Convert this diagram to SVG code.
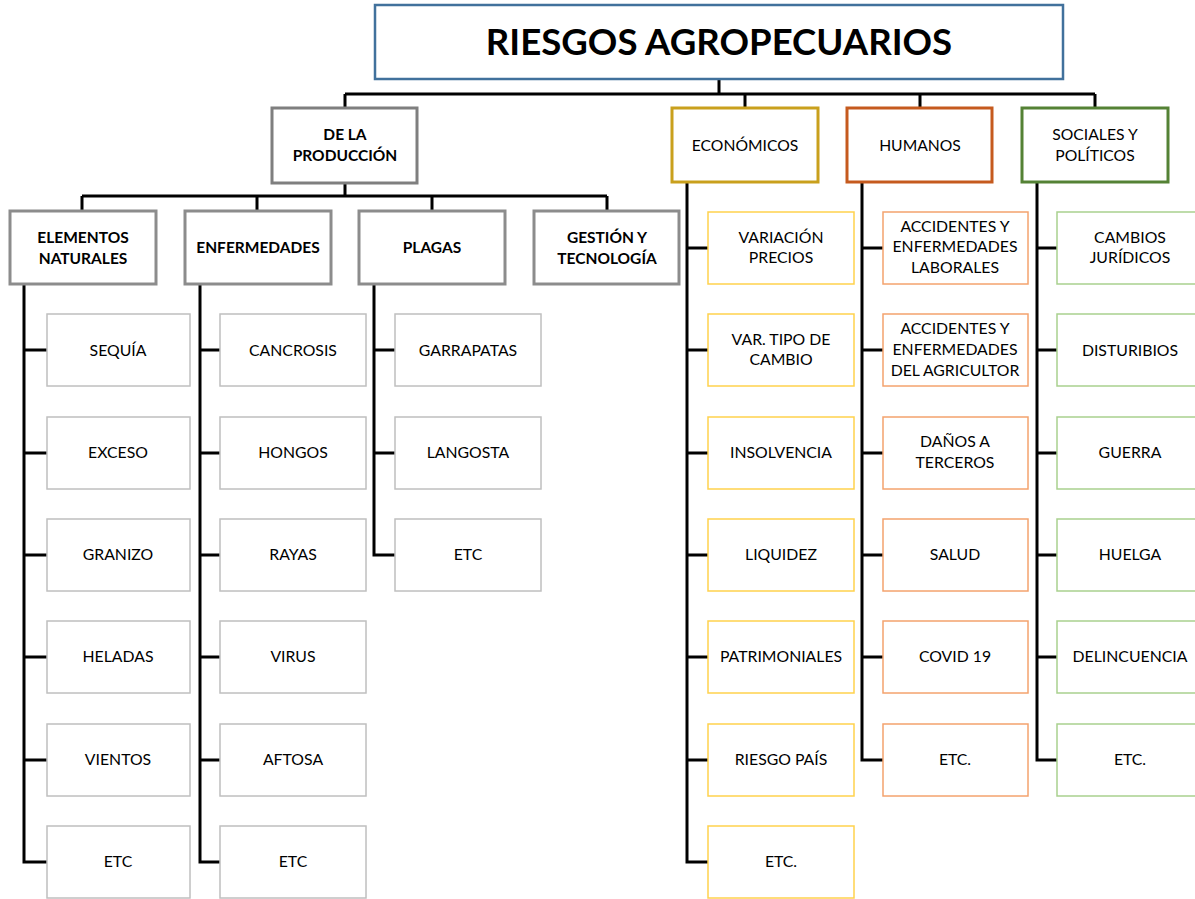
<svg xmlns="http://www.w3.org/2000/svg" width="1195" height="899" viewBox="0 0 1195 899">
<style>
text{font-family:Lato,"Liberation Sans",sans-serif;fill:#000;text-anchor:middle}
.t{font-size:36.6px;font-weight:bold}
.c{font-size:15.5px;font-weight:bold}
.m{font-size:15.7px}
.l{font-size:15.8px}
.conn{stroke:#000;stroke-width:3;fill:none}
.gray{fill:#fff;stroke:#8c8c8c;stroke-width:3}
.leafg{fill:#fff;stroke:#bfbfbf;stroke-width:1.5}
.leafy{fill:#fff;stroke:#ffd24d;stroke-width:1.5}
.leafo{fill:#fff;stroke:#f4a36e;stroke-width:1.5}
.leafv{fill:#fff;stroke:#a9d18e;stroke-width:1.5}
</style>
<g id="connectors" class="conn">
<path d="M719 79V94M345 94H1095M345 94V108M745 94V108M920 94V108M1095 94V108"/>
<path d="M345 183V196M82 196H607M82 196V211M257 196V211M432 196V211M607 196V211"/>
<path d="M24 284V862H47M24 350H47M24 453H47M24 555H47M24 657H47M24 760H47"/>
<path d="M200 284V862H220M200 350H220M200 453H220M200 555H220M200 657H220M200 760H220"/>
<path d="M374 284V555H395M374 350H395M374 453H395"/>
<path d="M687 183V862H708M687 248H708M687 350H708M687 453H708M687 555H708M687 657H708M687 760H708"/>
<path d="M862 183V760H883M862 248H883M862 350H883M862 453H883M862 555H883M862 657H883"/>
<path d="M1037 183V760H1057M1037 248H1057M1037 350H1057M1037 453H1057M1037 555H1057M1037 657H1057"/>
</g>
<g id="title"><rect x="375" y="5" width="688" height="74" fill="#fff" stroke="#41719c" stroke-width="2.5"/><text class="t" x="719" y="55">RIESGOS AGROPECUARIOS</text></g>
<g id="produccion"><rect x="272" y="108" width="145" height="75" fill="#fff" stroke="#7f7f7f" stroke-width="3"/><text class="c" x="345" y="140">DE LA</text><text class="c" x="345" y="161">PRODUCCIÓN</text></g>
<g id="economicos"><rect x="672" y="108" width="146" height="74" fill="#fff" stroke="#c9a01c" stroke-width="3"/><text class="m" x="745" y="151">ECONÓMICOS</text></g>
<g id="humanos"><rect x="847" y="108" width="145" height="74" fill="#fff" stroke="#c55a1e" stroke-width="3"/><text class="m" x="920" y="151">HUMANOS</text></g>
<g id="sociales"><rect x="1022" y="108" width="146" height="74" fill="#fff" stroke="#548235" stroke-width="3"/><text class="m" x="1095" y="140">SOCIALES Y</text><text class="m" x="1095" y="161">POLÍTICOS</text></g>
<g id="elementos"><rect class="gray" x="10" y="211" width="146" height="73"/><text class="c" x="83" y="243">ELEMENTOS</text><text class="c" x="83" y="264">NATURALES</text></g>
<g id="enfermedades"><rect class="gray" x="185" y="211" width="146" height="73"/><text class="c" x="258" y="253">ENFERMEDADES</text></g>
<g id="plagas"><rect class="gray" x="359" y="211" width="146" height="73"/><text class="c" x="432" y="253">PLAGAS</text></g>
<g id="gestion"><rect class="gray" x="534" y="211" width="145" height="73"/><text class="c" x="607" y="243">GESTIÓN Y</text><text class="c" x="607" y="264">TECNOLOGÍA</text></g>
<g id="sequia"><rect class="leafg" x="47" y="314" width="143" height="72"/><text class="l" x="118" y="356">SEQUÍA</text></g>
<g id="exceso"><rect class="leafg" x="47" y="417" width="143" height="72"/><text class="l" x="118" y="458">EXCESO</text></g>
<g id="granizo"><rect class="leafg" x="47" y="519" width="143" height="72"/><text class="l" x="118" y="560">GRANIZO</text></g>
<g id="heladas"><rect class="leafg" x="47" y="621" width="143" height="72"/><text class="l" x="118" y="662">HELADAS</text></g>
<g id="vientos"><rect class="leafg" x="47" y="724" width="143" height="72"/><text class="l" x="118" y="765">VIENTOS</text></g>
<g id="etc1"><rect class="leafg" x="47" y="826" width="143" height="72"/><text class="l" x="118" y="867">ETC</text></g>
<g id="cancrosis"><rect class="leafg" x="220" y="314" width="146" height="72"/><text class="l" x="293" y="356">CANCROSIS</text></g>
<g id="hongos"><rect class="leafg" x="220" y="417" width="146" height="72"/><text class="l" x="293" y="458">HONGOS</text></g>
<g id="rayas"><rect class="leafg" x="220" y="519" width="146" height="72"/><text class="l" x="293" y="560">RAYAS</text></g>
<g id="virus"><rect class="leafg" x="220" y="621" width="146" height="72"/><text class="l" x="293" y="662">VIRUS</text></g>
<g id="aftosa"><rect class="leafg" x="220" y="724" width="146" height="72"/><text class="l" x="293" y="765">AFTOSA</text></g>
<g id="etc2"><rect class="leafg" x="220" y="826" width="146" height="72"/><text class="l" x="293" y="867">ETC</text></g>
<g id="garrapatas"><rect class="leafg" x="395" y="314" width="146" height="72"/><text class="l" x="468" y="356">GARRAPATAS</text></g>
<g id="langosta"><rect class="leafg" x="395" y="417" width="146" height="72"/><text class="l" x="468" y="458">LANGOSTA</text></g>
<g id="etc3"><rect class="leafg" x="395" y="519" width="146" height="72"/><text class="l" x="468" y="560">ETC</text></g>
<g id="variacion"><rect class="leafy" x="708" y="212" width="146" height="72"/><text class="l" x="781" y="243">VARIACIÓN</text><text class="l" x="781" y="263">PRECIOS</text></g>
<g id="tipocambio"><rect class="leafy" x="708" y="314" width="146" height="72"/><text class="l" x="781" y="345">VAR. TIPO DE</text><text class="l" x="781" y="365">CAMBIO</text></g>
<g id="insolvencia"><rect class="leafy" x="708" y="417" width="146" height="72"/><text class="l" x="781" y="458">INSOLVENCIA</text></g>
<g id="liquidez"><rect class="leafy" x="708" y="519" width="146" height="72"/><text class="l" x="781" y="560">LIQUIDEZ</text></g>
<g id="patrimoniales"><rect class="leafy" x="708" y="621" width="146" height="72"/><text class="l" x="781" y="662">PATRIMONIALES</text></g>
<g id="riesgopais"><rect class="leafy" x="708" y="724" width="146" height="72"/><text class="l" x="781" y="765">RIESGO PAÍS</text></g>
<g id="etc4"><rect class="leafy" x="708" y="826" width="146" height="72"/><text class="l" x="781" y="867">ETC.</text></g>
<g id="laborales"><rect class="leafo" x="883" y="212" width="145" height="72"/><text class="l" x="955" y="232">ACCIDENTES Y</text><text class="l" x="955" y="252">ENFERMEDADES</text><text class="l" x="955" y="273">LABORALES</text></g>
<g id="agricultor"><rect class="leafo" x="883" y="314" width="145" height="72"/><text class="l" x="955" y="334">ACCIDENTES Y</text><text class="l" x="955" y="355">ENFERMEDADES</text><text class="l" x="955" y="376">DEL AGRICULTOR</text></g>
<g id="terceros"><rect class="leafo" x="883" y="417" width="145" height="72"/><text class="l" x="955" y="447">DAÑOS A</text><text class="l" x="955" y="468">TERCEROS</text></g>
<g id="salud"><rect class="leafo" x="883" y="519" width="145" height="72"/><text class="l" x="955" y="560">SALUD</text></g>
<g id="covid"><rect class="leafo" x="883" y="621" width="145" height="72"/><text class="l" x="955" y="662">COVID 19</text></g>
<g id="etc5"><rect class="leafo" x="883" y="724" width="145" height="72"/><text class="l" x="955" y="765">ETC.</text></g>
<g id="juridicos"><rect class="leafv" x="1057" y="212" width="146" height="72"/><text class="l" x="1130" y="243">CAMBIOS</text><text class="l" x="1130" y="263">JURÍDICOS</text></g>
<g id="disturbios"><rect class="leafv" x="1057" y="314" width="146" height="72"/><text class="l" x="1130" y="356">DISTURIBIOS</text></g>
<g id="guerra"><rect class="leafv" x="1057" y="417" width="146" height="72"/><text class="l" x="1130" y="458">GUERRA</text></g>
<g id="huelga"><rect class="leafv" x="1057" y="519" width="146" height="72"/><text class="l" x="1130" y="560">HUELGA</text></g>
<g id="delincuencia"><rect class="leafv" x="1057" y="621" width="146" height="72"/><text class="l" x="1130" y="662">DELINCUENCIA</text></g>
<g id="etc6"><rect class="leafv" x="1057" y="724" width="146" height="72"/><text class="l" x="1130" y="765">ETC.</text></g>
</svg>
